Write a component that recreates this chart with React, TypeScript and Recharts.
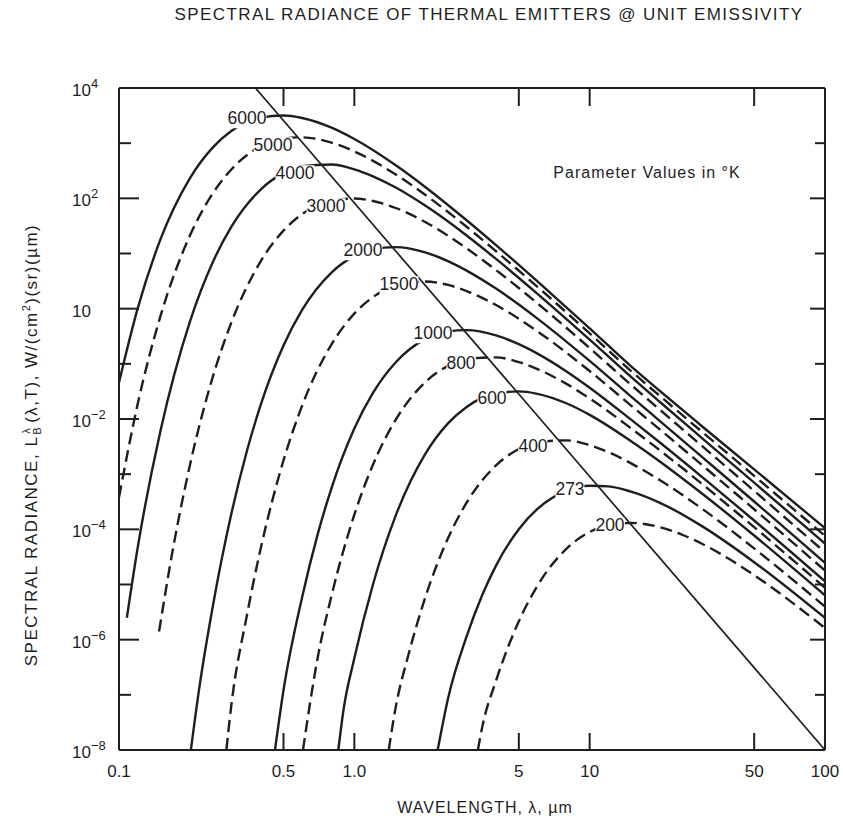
import React from "react";
import { LineChart, Line, XAxis, YAxis, ReferenceLine } from "recharts";

const INK = "#1e1e1e";
const FONT = '"Liberation Sans", Arial, Helvetica, sans-serif';

// wavelength axis, µm
const WAVE_TICKS = [0.1, 0.5, 1, 5, 10, 50, 100];
const WAVE_LABELS = ["0.1", "0.5", "1.0", "5", "10", "50", "100"];

// radiance axis, one tick per decade, a label every second decade
const RAD_TICKS = [1e-8, 1e-7, 1e-6, 1e-5, 1e-4, 1e-3, 1e-2, 1e-1, 1, 10, 100, 1e3, 1e4];
const RAD_SUPS: Record<string, string> = {
  "4": "4",
  "2": "2",
  "0": "",
  "-2": "\u22122",
  "-4": "\u22124",
  "-6": "\u22126",
  "-8": "\u22128",
};

// parameter values, °K
const TEMPS = [6000, 5000, 4000, 3000, 2000, 1500, 1000, 800, 600, 400, 273, 200];

// [wavelength µm, radiance W/(cm2)(sr)(µm)]
const curve6000 = [[0.1, 4.6e-2], [0.12, 1.0], [0.15, 18], [0.2, 231], [0.25, 832], [0.3, 1660], [0.4, 2900], [0.5, 3170], [0.6, 2860], [0.8, 1910], [1, 1190], [1.5, 397], [2, 161], [3, 40.1], [4, 14.2], [6, 3.12], [10, 0.44], [15, 9.0e-2], [20, 3.15e-2], [30, 7.4e-3], [50, 1.22e-3], [100, 1.05e-4]];
const curve5000 = [[0.1, 3.8e-4], [0.12, 1.85e-2], [0.15, 0.73], [0.2, 21], [0.25, 122], [0.3, 334], [0.4, 875], [0.5, 1210], [0.6, 1275], [0.8, 1023], [1, 710], [1.5, 270], [2, 116], [3, 30.5], [4, 11.0], [6, 2.49], [10, 0.357], [15, 7.4e-2], [20, 2.56e-2], [30, 5.87e-3], [50, 9.34e-4], [100, 7.6e-5]];
const curve4000 = [[0.108, 2.5e-6], [0.12, 4.59e-5], [0.15, 6.04e-3], [0.2, 0.575], [0.25, 6.87], [0.3, 30.4], [0.4, 144.5], [0.5, 286], [0.6, 382], [0.8, 410], [1, 336], [1.2, 251], [1.5, 157], [2, 73.8], [3, 21.2], [4, 7.97], [6, 1.86], [10, 0.275], [15, 5.79e-2], [20, 1.99e-2], [30, 4.51e-3], [50, 7.02e-4], [100, 5.52e-5]];
const curve3000 = [[0.148, 1.41e-6], [0.17, 4.7e-5], [0.2, 1.435e-3], [0.25, 5.69e-2], [0.3, 0.558], [0.4, 7.21], [0.5, 26.0], [0.6, 51.8], [0.8, 90.6], [1, 99.2], [1.2, 89.5], [1.5, 66.8], [2, 37.2], [3, 12.4], [4, 5.02], [6, 1.25], [10, 0.1936], [15, 4.16e-2], [20, 1.44e-2], [30, 3.25e-3], [50, 4.98e-4], [100, 3.84e-5]];
const curve2000 = [[0.202, 1e-8], [0.22, 1.455e-7], [0.25, 3.88e-6], [0.3, 1.888e-4], [0.35, 2.685e-3], [0.4, 1.8e-2], [0.5, 0.2148], [0.6, 0.951], [0.8, 4.52], [1, 8.95], [1.2, 11.94], [1.5, 13.06], [2, 10.49], [2.5, 7.28], [3, 4.9], [4, 2.31], [6, 0.661], [10, 0.113], [15, 2.55e-2], [20, 8.99e-3], [30, 2.06e-3], [50, 3.2e-4], [100, 2.47e-5]];
const curve1500 = [[0.286, 1e-8], [0.3, 6.37e-8], [0.35, 2.84e-6], [0.4, 4.48e-5], [0.5, 1.774e-3], [0.6, 1.746e-2], [0.8, 0.2254], [1, 0.813], [1.2, 1.618], [1.5, 2.624], [2, 3.1], [2.5, 2.69], [3, 2.09], [4, 1.163], [6, 0.388], [10, 7.4e-2], [15, 1.75e-2], [20, 6.3e-3], [30, 1.47e-3], [50, 2.31e-4], [100, 1.79e-5]];
const curve1000 = [[0.46, 1e-8], [0.5, 1.213e-7], [0.6, 5.9e-6], [0.7, 8.37e-5], [0.8, 5.61e-4], [1, 6.71e-3], [1.2, 2.97e-2], [1.5, 0.107], [2, 0.28], [2.5, 0.3877], [3, 0.408], [4, 0.3275], [5, 0.227], [6, 0.153], [8, 7.21e-2], [10, 3.7e-2], [15, 9.74e-3], [20, 3.68e-3], [30, 8.95e-4], [50, 1.446e-4], [100, 1.14e-5]];
const curve800 = [[0.605, 1e-8], [0.7, 4.92e-7], [0.8, 6.27e-6], [1, 1.84e-4], [1.2, 1.483e-3], [1.5, 9.73e-3], [2, 4.63e-2], [2.5, 9.17e-2], [3, 0.1223], [4, 0.1311], [5, 0.1074], [6, 8.04e-2], [8, 4.29e-2], [10, 2.36e-2], [15, 6.77e-3], [20, 2.65e-3], [30, 6.67e-4], [50, 1.097e-4], [100, 8.74e-6]];
const curve600 = [[0.855, 1e-8], [0.9, 5.42e-8], [1, 4.59e-7], [1.2, 1.0e-5], [1.5, 1.786e-4], [2, 2.31e-3], [2.5, 8.32e-3], [3, 1.656e-2], [4, 2.9e-2], [5, 3.17e-2], [6, 2.86e-2], [8, 1.91e-2], [10, 1.19e-2], [15, 3.97e-3], [20, 1.668e-3], [30, 4.47e-4], [50, 7.72e-5], [100, 6.36e-6]];
const curve400 = [[1.4, 1e-8], [1.5, 6.04e-8], [1.7, 5.43e-7], [2, 5.75e-6], [2.5, 6.88e-5], [3, 3.04e-4], [4, 1.445e-3], [5, 2.86e-3], [6, 3.82e-3], [8, 4.1e-3], [10, 3.36e-3], [12, 2.51e-3], [15, 1.568e-3], [20, 7.66e-4], [30, 2.37e-4], [50, 4.51e-5], [100, 3.97e-6]];
const curve273 = [[2.26, 1e-8], [2.5, 8.53e-8], [3, 1.149e-6], [3.5, 6.54e-6], [4, 2.2e-5], [5, 1.007e-4], [6, 2.34e-4], [8, 5.01e-4], [10, 6.15e-4], [12, 6.0e-4], [15, 4.82e-4], [20, 2.99e-4], [30, 1.143e-4], [50, 2.54e-5], [100, 2.48e-6]];
const curve200 = [[3.35, 1e-8], [3.5, 2.68e-8], [4, 1.796e-7], [5, 2.15e-6], [6, 9.5e-6], [8, 4.52e-5], [10, 8.95e-5], [12, 1.194e-4], [15, 1.306e-4], [20, 1.089e-4], [25, 7.81e-5], [30, 5.47e-5], [40, 2.75e-5], [50, 1.478e-5], [100, 1.63e-6]];

// locus of the peaks
const wienLine = [[0.38, 1e4], [100, 1e-8]];

const CURVES = [curve6000, curve5000, curve4000, curve3000, curve2000, curve1500, curve1000, curve800, curve600, curve400, curve273, curve200];

// where the parameter labels sit on the page (centre, px)
const LABEL_POS: Record<number, [number, number]> = {
  6000: [247, 119],
  5000: [273, 146],
  4000: [295, 174],
  3000: [326, 207],
  2000: [363, 251],
  1500: [399, 285],
  1000: [433, 334],
  800: [461, 364],
  600: [492, 399],
  400: [533, 447],
  273: [570, 490],
  200: [610, 526],
};

const W = 843;
const H = 827;
const PLOT_LEFT = 119;
const PLOT_RIGHT = 825;
const PLOT_TOP = 88;
const PLOT_BOTTOM = 750;

const toPoints = (rows: number[][]) => rows.map(([x, y]) => ({ x, y }));

function WaveTick(props: any) {
  const { x, payload } = props;
  const i = WAVE_TICKS.indexOf(payload.value);
  const inner = payload.value > 0.1 && payload.value < 100;
  return (
    <g>
      {inner && <line x1={x} x2={x} y1={PLOT_BOTTOM} y2={PLOT_BOTTOM - 17} stroke={INK} strokeWidth={2} />}
      {inner && <line x1={x} x2={x} y1={PLOT_TOP} y2={PLOT_TOP + 18} stroke={INK} strokeWidth={2} />}
      <text x={x} y={PLOT_BOTTOM + 27} textAnchor="middle" fontSize={17} fontFamily={FONT} fill={INK}>
        {WAVE_LABELS[i]}
      </text>
    </g>
  );
}

function RadTick(props: any) {
  const { y, payload } = props;
  const exp = Math.round(Math.log10(payload.value));
  const major = exp % 2 === 0;
  const edge = exp === 4 || exp === -8;
  return (
    <g>
      {!edge && (
        <line x1={PLOT_LEFT} x2={PLOT_LEFT + (major ? 20 : 12)} y1={y} y2={y} stroke={INK} strokeWidth={2} />
      )}
      {!edge && (
        <line x1={PLOT_RIGHT} x2={PLOT_RIGHT - (major ? 15 : 10)} y1={y} y2={y} stroke={INK} strokeWidth={2} />
      )}
      {major && (
        <text x={72} y={y + 8} fontSize={17} fontFamily={FONT} fill={INK}>
          10
          <tspan dy={-8} fontSize={13}>
            {RAD_SUPS[String(exp)]}
          </tspan>
        </text>
      )}
    </g>
  );
}

export default function App() {
  const series = TEMPS.map((t, i) => ({ t, dashed: i % 2 === 1, data: toPoints(CURVES[i]) }));

  return (
    <div
      style={{
        position: "absolute",
        left: 0,
        top: 0,
        width: W,
        height: H,
        background: "#fff",
        fontFamily: FONT,
        color: INK,
      }}
    >
      <LineChart width={W} height={H} margin={{ top: PLOT_TOP, right: W - PLOT_RIGHT, bottom: H - PLOT_BOTTOM - 40, left: PLOT_LEFT - 60 }}>
        <XAxis
          dataKey="x"
          type="number"
          scale="log"
          domain={[0.1, 100]}
          allowDataOverflow
          ticks={WAVE_TICKS}
          interval={0}
          tick={(p: any) => <WaveTick {...p} />}
          tickLine={false}
          axisLine={{ stroke: INK, strokeWidth: 2 }}
          height={40}
        />
        <YAxis
          type="number"
          scale="log"
          domain={[1e-8, 1e4]}
          allowDataOverflow
          ticks={RAD_TICKS}
          interval={0}
          tick={(p: any) => <RadTick {...p} />}
          tickLine={false}
          axisLine={{ stroke: INK, strokeWidth: 2 }}
          width={60}
        />
        <ReferenceLine y={1e4} stroke={INK} strokeWidth={2} ifOverflow="visible" />
        <ReferenceLine x={100} stroke={INK} strokeWidth={2} ifOverflow="visible" />
        <Line
          data={toPoints(wienLine)}
          dataKey="y"
          type="linear"
          stroke={INK}
          strokeWidth={1.7}
          dot={false}
          activeDot={false}
          isAnimationActive={false}
        />
        {series.map((s) => (
          <Line
            key={s.t}
            data={s.data}
            dataKey="y"
            type="monotone"
            stroke={INK}
            strokeWidth={2.4}
            strokeDasharray={s.dashed ? "12 6" : undefined}
            dot={false}
            activeDot={false}
            isAnimationActive={false}
          />
        ))}
      </LineChart>

      {series.map((s) => (
        <span
          key={"lbl" + s.t}
          style={{
            position: "absolute",
            left: LABEL_POS[s.t][0],
            top: LABEL_POS[s.t][1],
            transform: "translate(-50%, -50%)",
            background: "#fff",
            fontSize: 17.5,
            lineHeight: 1,
            whiteSpace: "nowrap",
          }}
        >
          {s.t}
        </span>
      ))}

      <div
        style={{
          position: "absolute",
          left: 489,
          top: 15,
          transform: "translate(-50%, -50%)",
          whiteSpace: "nowrap",
          fontSize: 17,
          letterSpacing: 1.4,
        }}
      >
        SPECTRAL RADIANCE OF THERMAL EMITTERS @ UNIT EMISSIVITY
      </div>

      <div
        style={{
          position: "absolute",
          left: 647,
          top: 173,
          transform: "translate(-50%, -50%)",
          whiteSpace: "nowrap",
          fontSize: 16,
          letterSpacing: 1,
        }}
      >
        Parameter Values in °K
      </div>

      <div
        style={{
          position: "absolute",
          left: 485,
          top: 808,
          transform: "translate(-50%, -50%)",
          whiteSpace: "nowrap",
          fontSize: 16,
          letterSpacing: 1,
        }}
      >
        WAVELENGTH, λ, µm
      </div>

      <div
        style={{
          position: "absolute",
          left: 32,
          top: 445,
          transform: "translate(-50%, -50%) rotate(-90deg)",
          whiteSpace: "nowrap",
          fontSize: 17,
          letterSpacing: 1.5,
        }}
      >
        SPECTRAL RADIANCE, L
        <span
          style={{
            display: "inline-flex",
            flexDirection: "column",
            fontSize: 11,
            lineHeight: 1,
            verticalAlign: "middle",
            margin: "0 3px 0 1px",
            textAlign: "center",
          }}
        >
          <span>λ</span>
          <span>B</span>
        </span>
        (λ,T), W/(cm<sup style={{ fontSize: 11 }}>2</sup>)(sr)(µm)
      </div>
    </div>
  );
}
